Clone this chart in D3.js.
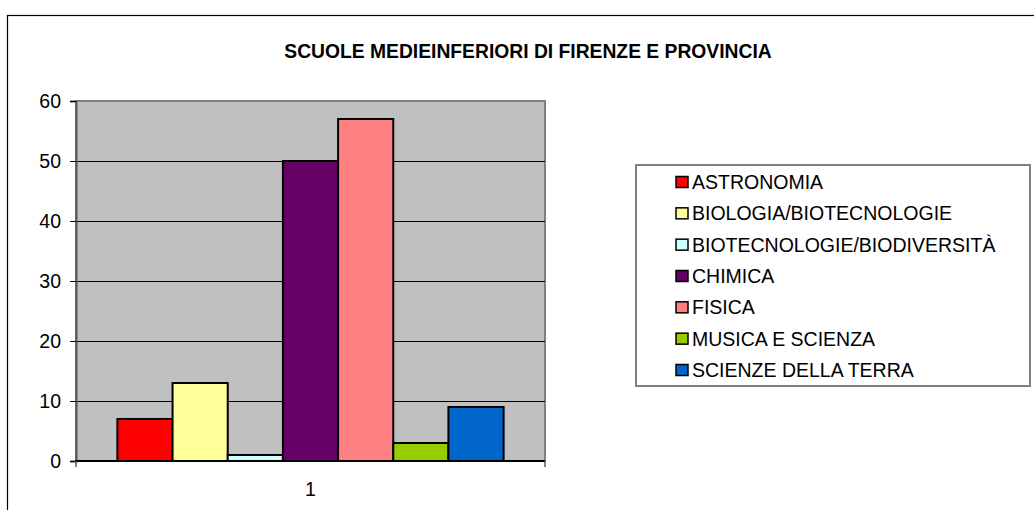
<!DOCTYPE html>
<html>
<head>
<meta charset="utf-8">
<script src="https://cdn.jsdelivr.net/npm/d3@7"></script>
<style>
  html, body { margin: 0; padding: 0; background: #fff; }
  svg { display: block; font-family: Arial, "Liberation Sans", sans-serif; }
</style>
</head>
<body>
<div id="chart"></div>
<script>
const W = 1034;
const H = 510;

// ── Data ────────────────────────────────────────────────────────────────────
const title = "SCUOLE MEDIEINFERIORI DI FIRENZE E PROVINCIA";
const categories = ["1"];
const seriesNames = [
  "ASTRONOMIA",
  "BIOLOGIA/BIOTECNOLOGIE",
  "BIOTECNOLOGIE/BIODIVERSITÀ",
  "CHIMICA",
  "FISICA",
  "MUSICA E SCIENZA",
  "SCIENZE DELLA TERRA",
];
const seriesValues = [7, 13, 1, 50, 57, 3, 9];
const seriesColors = ["#ff0000", "#ffff99", "#ccffff", "#660066", "#ff8080", "#99cc00", "#0066cc"];
const yTicks = [0, 10, 20, 30, 40, 50, 60];

// ── Layout ──────────────────────────────────────────────────────────────────
const plot = {left: 76, right: 545, top: 101, bottom: 461};
const fontSize = 19.5;

const svg = d3.select("#chart").append("svg")
  .attr("width", W)
  .attr("height", H)
  .attr("viewBox", `0 0 ${W} ${H}`);

// outer chart frame (runs off the right and bottom edges)
svg.append("rect")
  .attr("x", 7.5).attr("y", 15.5)
  .attr("width", W + 20).attr("height", H + 20)
  .attr("fill", "#fff")
  .attr("stroke", "#000")
  .attr("stroke-width", 1.2);

svg.append("text")
  .attr("x", 528).attr("y", 58)
  .attr("text-anchor", "middle")
  .attr("font-size", 19.3)
  .attr("font-weight", "bold")
  .attr("fill", "#000")
  .text(title);

// ── Scales ──────────────────────────────────────────────────────────────────
const y = d3.scaleLinear().domain([0, 60]).range([plot.bottom, plot.top]);
const xCat = d3.scaleBand().domain(categories).range([plot.left, plot.right]);
const xSeries = d3.scaleBand()
  .domain(seriesNames)
  .range([0, xCat.bandwidth()])
  .paddingInner(0)
  .paddingOuter(0.75); // Excel gap width 150%

// plot area
svg.append("rect")
  .attr("x", plot.left).attr("y", plot.top)
  .attr("width", plot.right - plot.left)
  .attr("height", plot.bottom - plot.top)
  .attr("fill", "#c0c0c0")
  .attr("stroke", "#808080")
  .attr("stroke-width", 2);

// gridlines
svg.append("g")
  .selectAll("line")
  .data(yTicks.filter((t) => t > 0 && t < 60))
  .join("line")
  .attr("x1", plot.left).attr("x2", plot.right)
  .attr("y1", (d) => Math.round(y(d)) + 0.5)
  .attr("y2", (d) => Math.round(y(d)) + 0.5)
  .attr("stroke", "#000")
  .attr("stroke-width", 1);

// bars
const gBars = svg.append("g").attr("transform", `translate(${xCat("1")},0)`);
gBars.selectAll("rect")
  .data(seriesNames.map((name, i) => ({name, value: seriesValues[i], color: seriesColors[i]})))
  .join("rect")
  .attr("x", (d) => xSeries(d.name))
  .attr("y", (d) => y(d.value))
  .attr("width", xSeries.bandwidth())
  .attr("height", (d) => y(0) - y(d.value))
  .attr("fill", (d) => d.color)
  .attr("stroke", "#000")
  .attr("stroke-width", 2);

// y axis
const yAxis = svg.append("g")
  .attr("transform", `translate(${plot.left},0)`)
  .call(d3.axisLeft(y).tickValues(yTicks).tickSize(6).tickPadding(9).tickFormat(d3.format("d")));
yAxis.select(".domain").attr("stroke", "#555").attr("stroke-width", 2);
yAxis.selectAll(".tick line").attr("stroke", "#000");
yAxis.selectAll(".tick text")
  .attr("font-size", fontSize)
  .attr("font-family", "Arial, 'Liberation Sans', sans-serif")
  .attr("fill", "#000");

// x axis: line with ticks at the category boundaries
const xAxis = svg.append("g");
xAxis.append("line")
  .attr("x1", plot.left - 1).attr("x2", plot.right)
  .attr("y1", plot.bottom).attr("y2", plot.bottom)
  .attr("stroke", "#000").attr("stroke-width", 2);
xAxis.selectAll(".edge")
  .data([xCat.range()[0], xCat.range()[1]])
  .join("line")
  .attr("class", "edge")
  .attr("x1", (d) => d).attr("x2", (d) => d)
  .attr("y1", plot.bottom).attr("y2", plot.bottom + 6)
  .attr("stroke", "#555").attr("stroke-width", 1.5);
xAxis.selectAll("text")
  .data(categories)
  .join("text")
  .attr("x", (d) => xCat(d) + xCat.bandwidth() / 2)
  .attr("y", 496)
  .attr("text-anchor", "middle")
  .attr("font-size", fontSize)
  .attr("fill", "#000")
  .text((d) => d);

// ── Legend ──────────────────────────────────────────────────────────────────
const legend = svg.append("g");
legend.append("rect")
  .attr("x", 636).attr("y", 165)
  .attr("width", 394).attr("height", 221)
  .attr("fill", "#fff")
  .attr("stroke", "#808080")
  .attr("stroke-width", 2);

const legendY = d3.scalePoint().domain(seriesNames).range([182, 370]);
const items = legend.selectAll(".item")
  .data(seriesNames.map((name, i) => ({name, color: seriesColors[i]})))
  .join("g")
  .attr("class", "item")
  .attr("transform", (d) => `translate(0,${legendY(d.name)})`);
items.append("rect")
  .attr("x", 676).attr("y", -5.5)
  .attr("width", 12).attr("height", 11)
  .attr("fill", (d) => d.color)
  .attr("stroke", "#000")
  .attr("stroke-width", 1.5);
items.append("text")
  .attr("x", 692)
  .attr("y", 7)
  .attr("font-size", fontSize)
  .attr("fill", "#000")
  .text((d) => d.name);
</script>
</body>
</html>
